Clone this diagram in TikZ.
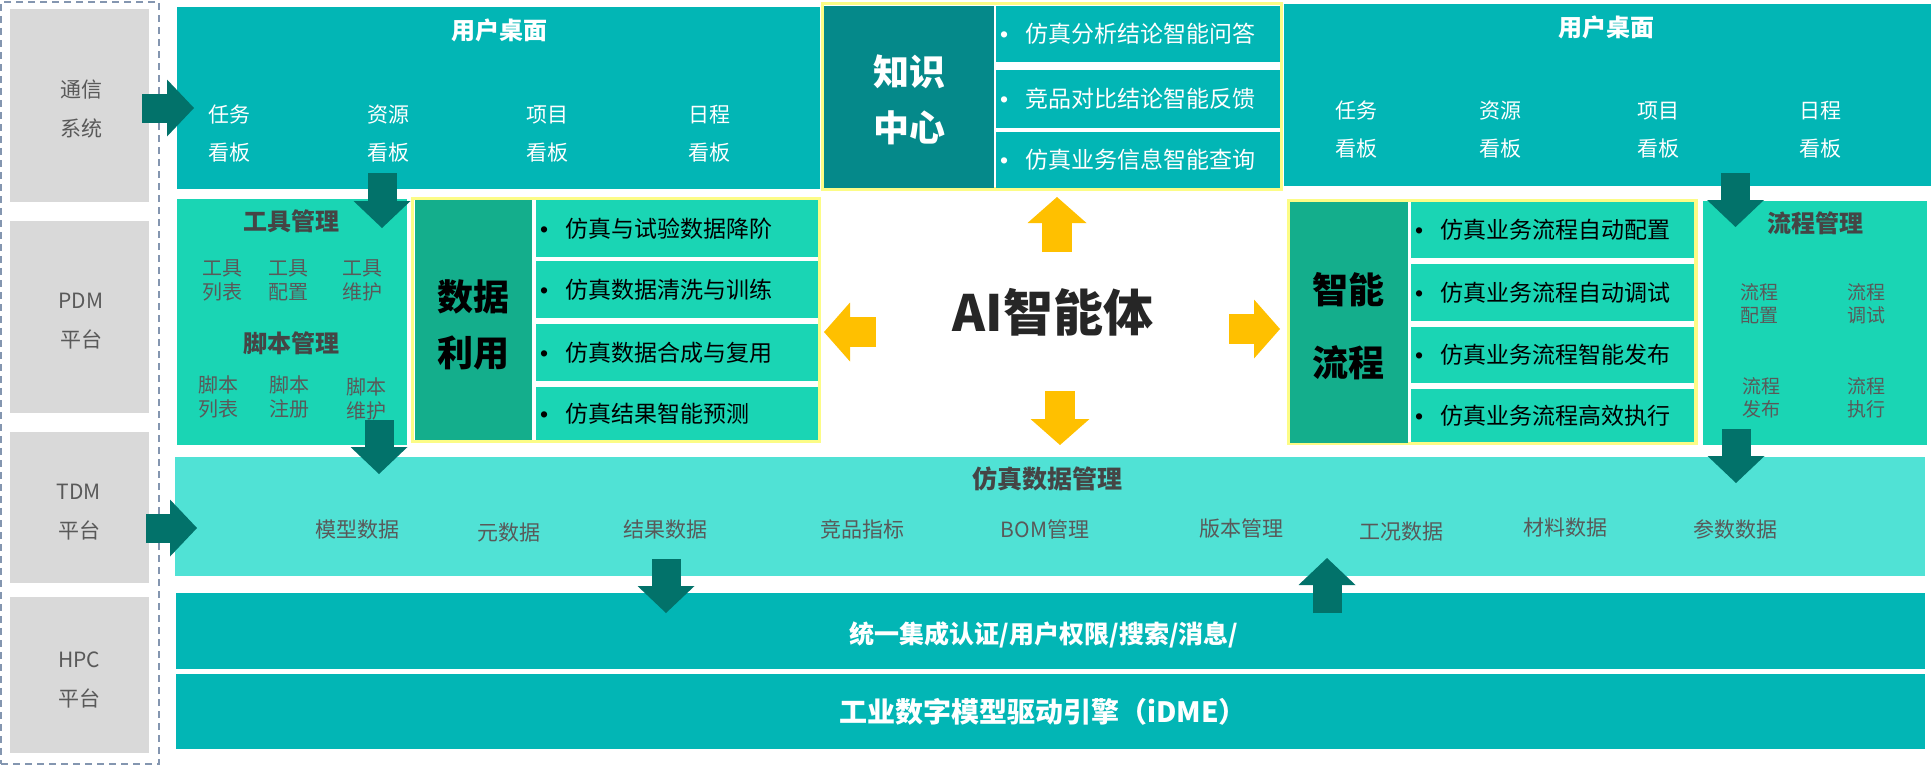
\documentclass[tikz,border=0pt]{standalone}
\usepackage{fontspec}
\setmainfont{Noto Sans CJK SC}
\newfontfamily\bulletfont{Liberation Sans}
\usetikzlibrary{arrows.meta}
\definecolor{deskteal}{HTML}{02B6B5}
\definecolor{mint}{HTML}{1AD5B4}
\definecolor{lightmint}{HTML}{50E2D5}
\definecolor{darkteal}{HTML}{05898A}
\definecolor{datagreen}{HTML}{14AE8C}
\definecolor{arrowdark}{HTML}{02726A}
\definecolor{amber}{HTML}{FFC000}
\definecolor{paleyellow}{HTML}{FCFC86}
\definecolor{sidegray}{HTML}{D9D9D9}
\definecolor{framegray}{HTML}{8496B0}
\definecolor{labelgray}{HTML}{595959}
\definecolor{titlegray}{HTML}{454545}
\newcommand{\itembullet}{\rlap{\bulletfont •}\hspace{12.5pt}}
\begin{document}
\begin{tikzpicture}[x=0.5pt,y=-0.5pt,
  box/.style={anchor=north west,inner sep=0pt,outer sep=0pt},
  yframe/.style={box,draw=paleyellow,line width=1.75pt,fill=white},
  row/.style={anchor=north west,outer sep=0pt,inner xsep=2pt,inner ysep=0pt,align=left,font=\fontsize{11.5}{14}\selectfont},
  side/.style={align=center,text=labelgray,font=\fontsize{10.5}{19.5}\selectfont},
  board/.style={align=center,text=white,font=\fontsize{10.5}{19}\selectfont},
  boardtitle/.style={text=white,font=\bfseries\fontsize{12}{14}\selectfont},
  bigtitle/.style={align=center,font=\bfseries\fontsize{18}{28}\selectfont},
  graytitle/.style={text=titlegray,font=\bfseries\fontsize{12}{14}\selectfont},
  smallitem/.style={align=center,text=labelgray,font=\fontsize{10}{12}\selectfont},
  simitem/.style={text=labelgray,font=\fontsize{10.5}{13}\selectfont},
  bartext/.style={text=white,font=\bfseries\fontsize{12.5}{15}\selectfont},
  darrow/.style={draw=arrowdark,line width=14.5pt,-{Triangle[width=28.5pt,length=13.5pt,line width=0pt]}},
  yarrow/.style={draw=amber,line width=15pt,-{Triangle[width=29.5pt,length=13pt,line width=0pt]}}]
  \useasboundingbox (0,0) rectangle (1932,767);

  \node[box,draw=framegray,line width=0.75pt,dash pattern=on 3.5pt off 2.5pt,minimum width=79pt,minimum height=381pt] (sideframe) at (1,2) {};
  \node[box,fill=sidegray,minimum width=69.5pt,minimum height=96.5pt] (tongxin) at (10,9) {};
  \node[box,fill=sidegray,minimum width=69.5pt,minimum height=96pt] (pdm) at (10,221) {};
  \node[box,fill=sidegray,minimum width=69.5pt,minimum height=75.5pt] (tdm) at (10,432) {};
  \node[box,fill=sidegray,minimum width=69.5pt,minimum height=78pt] (hpc) at (10,597) {};
  \node[side] (tongxinT) at (81,109) {通信\\系统};
  \node[side] (pdmT) at (81,321) {PDM\\平台};
  \node[side] (tdmT) at (79,512) {TDM\\平台};
  \node[side] (hpcT) at (79,680) {HPC\\平台};

  \node[box,fill=deskteal,minimum width=321.5pt,minimum height=91pt] (deskL) at (177,7) {};
  \node[boardtitle] (deskLT) at (499,30) {用户桌面};
  \node[board] (taskL) at (229,134) {任务\\看板};
  \node[board] (resL) at (388,134) {资源\\看板};
  \node[board] (projL) at (547,134) {项目\\看板};
  \node[board] (schedL) at (709,134) {日程\\看板};

  \node[box,fill=deskteal,minimum width=323.5pt,minimum height=91pt] (deskR) at (1284,4) {};
  \node[boardtitle] (deskRT) at (1606,27) {用户桌面};
  \node[board] (taskR) at (1356,129.5) {任务\\看板};
  \node[board] (resR) at (1500,129.5) {资源\\看板};
  \node[board] (projR) at (1658,129.5) {项目\\看板};
  \node[board] (schedR) at (1820,129.5) {日程\\看板};

  \node[yframe,minimum width=229.5pt,minimum height=92.75pt] (knowframe) at (822.5,3.5) {};
  \node[box,fill=darkteal,minimum width=85pt,minimum height=91pt] (know) at (824,6) {};
  \node[bigtitle,text=white] (knowT) at (909,100) {知识\\中心};
  \node[row,fill=deskteal,text=white,text width=138pt,minimum height=28pt] (know1) at (996,6) {\itembullet 仿真分析结论智能问答};
  \node[row,fill=deskteal,text=white,text width=138pt,minimum height=29pt] (know2) at (996,70) {\itembullet 竞品对比结论智能反馈};
  \node[row,fill=deskteal,text=white,text width=138pt,minimum height=28pt] (know3) at (996,132) {\itembullet 仿真业务信息智能查询};

  \node[box,fill=mint,minimum width=115pt,minimum height=123pt] (tool) at (177,199) {};
  \node[graytitle] (toolT) at (291,221) {工具管理};
  \node[smallitem] (toolList) at (222,280) {工具\\列表};
  \node[smallitem] (toolConf) at (288,280) {工具\\配置};
  \node[smallitem] (toolKeep) at (362,280) {工具\\维护};
  \node[graytitle] (scriptT) at (291,343) {脚本管理};
  \node[smallitem] (scriptList) at (218,397) {脚本\\列表};
  \node[smallitem] (scriptReg) at (289,397) {脚本\\注册};
  \node[smallitem] (scriptKeep) at (366,399) {脚本\\维护};

  \node[yframe,minimum width=203.5pt,minimum height=121.5pt] (dataframe) at (412.5,198.5) {};
  \node[box,fill=datagreen,minimum width=58.5pt,minimum height=120pt] (data) at (415,200) {};
  \node[bigtitle,text=black] (dataT) at (473,324.5) {数据\\利用};
  \node[row,fill=mint,text width=137pt,minimum height=28.5pt] (data1) at (536,200) {\itembullet 仿真与试验数据降阶};
  \node[row,fill=mint,text width=137pt,minimum height=28.5pt] (data2) at (536,261) {\itembullet 仿真数据清洗与训练};
  \node[row,fill=mint,text width=137pt,minimum height=28.5pt] (data3) at (536,324) {\itembullet 仿真数据合成与复用};
  \node[row,fill=mint,text width=137pt,minimum height=26.5pt] (data4) at (536,387) {\itembullet 仿真结果智能预测};

  \node[text=black!85,font=\bfseries\fontsize{25}{30}\selectfont] (ai) at (1053,312) {AI智能体};

  \node[yframe,minimum width=203.5pt,minimum height=121.5pt] (flowframe) at (1289,200.5) {};
  \node[box,fill=datagreen,minimum width=59pt,minimum height=120.5pt] (flow) at (1290,202) {};
  \node[bigtitle,text=black] (flowT) at (1348,326.5) {智能\\[8.5pt]流程};
  \node[row,fill=mint,text width=137.5pt,minimum height=28pt] (flow1) at (1411,202) {\itembullet 仿真业务流程自动配置};
  \node[row,fill=mint,text width=137.5pt,minimum height=28.5pt] (flow2) at (1411,264) {\itembullet 仿真业务流程自动调试};
  \node[row,fill=mint,text width=137.5pt,minimum height=28pt] (flow3) at (1411,327) {\itembullet 仿真业务流程智能发布};
  \node[row,fill=mint,text width=137.5pt,minimum height=26.5pt] (flow4) at (1411,389) {\itembullet 仿真业务流程高效执行};

  \node[box,fill=mint,minimum width=112pt,minimum height=122pt] (flowmgr) at (1703,201) {};
  \node[graytitle] (flowmgrT) at (1815,223) {流程管理};
  \node[smallitem,font=\fontsize{9.5}{11.5}\selectfont] (flowConf) at (1759,304) {流程\\配置};
  \node[smallitem,font=\fontsize{9.5}{11.5}\selectfont] (flowDebug) at (1866,304) {流程\\调试};
  \node[smallitem,font=\fontsize{9.5}{11.5}\selectfont] (flowPub) at (1761,398) {流程\\发布};
  \node[smallitem,font=\fontsize{9.5}{11.5}\selectfont] (flowRun) at (1866,398) {流程\\执行};

  \node[box,fill=lightmint,minimum width=875pt,minimum height=59.5pt] (sim) at (175,457) {};
  \node[graytitle,font=\bfseries\fontsize{12.5}{15}\selectfont] (simT) at (1047,479) {仿真数据管理};
  \node[simitem] (model) at (357,530) {模型数据};
  \node[simitem] (meta) at (509,533) {元数据};
  \node[simitem] (result) at (665,530) {结果数据};
  \node[simitem] (bench) at (862,529) {竞品指标};
  \node[simitem] (bom) at (1045,529) {BOM管理};
  \node[simitem] (version) at (1241,529) {版本管理};
  \node[simitem] (cond) at (1401,532) {工况数据};
  \node[simitem] (material) at (1565,528) {材料数据};
  \node[simitem] (param) at (1735,529) {参数数据};

  \node[box,fill=deskteal,minimum width=874.5pt,minimum height=38pt] (unified) at (176,593) {};
  \node[bartext] (unifiedT) at (1044,635) {统一集成认证/用户权限/搜索/消息/};
  \node[box,fill=deskteal,minimum width=874.5pt,minimum height=37.5pt] (engine) at (176,674) {};
  \node[bartext,font=\bfseries\fontsize{14}{17}\selectfont] (engineT) at (1043,712) {工业数字模型驱动引擎（iDME）};

  \coordinate (tx1) at (142,108);   \coordinate (tx2) at (194,108);
  \coordinate (dl1) at (382,173);   \coordinate (dl2) at (382,228);
  \coordinate (tl1) at (379,420);   \coordinate (tl2) at (379,474);
  \coordinate (dr1) at (1735.5,173); \coordinate (dr2) at (1735.5,227);
  \coordinate (fm1) at (1736,429);  \coordinate (fm2) at (1736,483);
  \coordinate (sm1) at (666,559);   \coordinate (sm2) at (666,613);
  \coordinate (un1) at (1327,613);  \coordinate (un2) at (1327,558);
  \coordinate (td1) at (146,528);   \coordinate (td2) at (197,528);
  \coordinate (aiU1) at (1057,252); \coordinate (aiU2) at (1057,197);
  \coordinate (aiL1) at (876,332);  \coordinate (aiL2) at (824,332);
  \coordinate (aiR1) at (1229,329); \coordinate (aiR2) at (1280,329);
  \coordinate (aiD1) at (1060,391); \coordinate (aiD2) at (1060,445);

  \draw[darrow] (tx1) -- (tx2);
  \draw[darrow] (dl1) -- (dl2);
  \draw[darrow] (tl1) -- (tl2);
  \draw[darrow] (dr1) -- (dr2);
  \draw[darrow] (fm1) -- (fm2);
  \draw[darrow] (sm1) -- (sm2);
  \draw[darrow] (un1) -- (un2);
  \draw[darrow] (td1) -- (td2);
  \draw[yarrow] (aiU1) -- (aiU2);
  \draw[yarrow] (aiL1) -- (aiL2);
  \draw[yarrow] (aiR1) -- (aiR2);
  \draw[yarrow] (aiD1) -- (aiD2);
\end{tikzpicture}
\end{document}
